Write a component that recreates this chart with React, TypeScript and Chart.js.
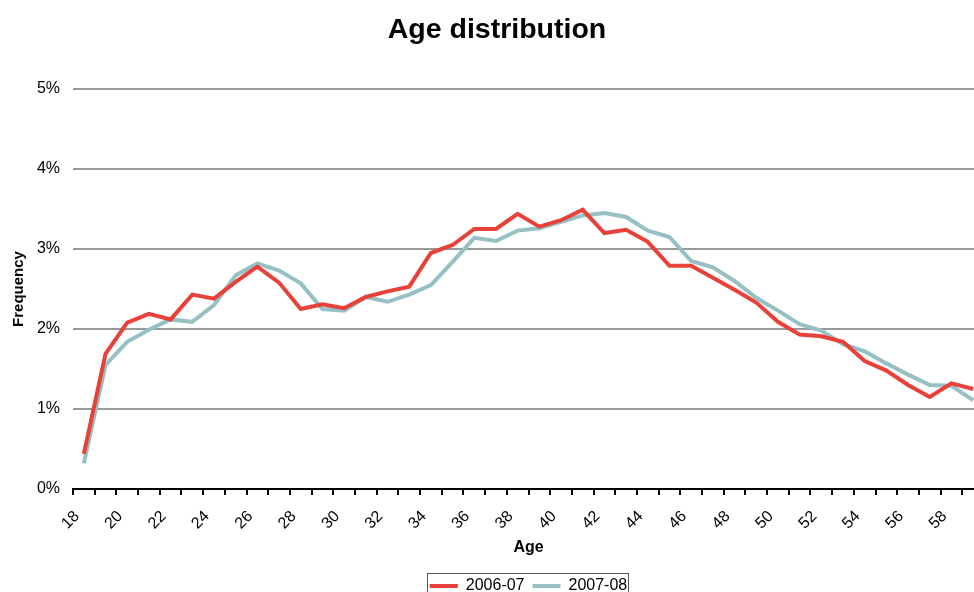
import React, { useEffect, useRef } from "react";
import { Chart, registerables } from "chart.js";

Chart.register(...registerables);

const ages: string[] = [
  "18","19","20","21","22","23","24","25","26","27","28","29","30","31",
  "32","33","34","35","36","37","38","39","40","41","42","43","44","45",
  "46","47","48","49","50","51","52","53","54","55","56","57","58","59",
];

const series2006: number[] = [
  0.44, 1.69, 2.08, 2.19, 2.12, 2.43, 2.38, 2.59, 2.78, 2.58, 2.25, 2.31, 2.26, 2.40,
  2.47, 2.53, 2.95, 3.05, 3.25, 3.25, 3.44, 3.28, 3.36, 3.49, 3.20, 3.24, 3.09, 2.79,
  2.79, 2.64, 2.49, 2.33, 2.09, 1.93, 1.91, 1.84, 1.60, 1.48, 1.30, 1.15, 1.32, 1.25,
];

const series2007: number[] = [
  0.32, 1.55, 1.84, 1.99, 2.12, 2.09, 2.30, 2.67, 2.82, 2.73, 2.57, 2.25, 2.23, 2.40,
  2.34, 2.43, 2.55, 2.84, 3.14, 3.10, 3.23, 3.26, 3.34, 3.42, 3.45, 3.40, 3.23, 3.15,
  2.85, 2.77, 2.60, 2.39, 2.23, 2.06, 1.98, 1.81, 1.72, 1.57, 1.43, 1.30, 1.29, 1.11,
];

const seriesNames: string[] = ["2006-07", "2007-08"];
const seriesColors: string[] = ["#E8413A", "#96C0C3"];

const FONT = "'Liberation Sans', Arial, sans-serif";

const legendBorder = {
  id: "legendBorder",
  afterDraw(chart: any) {
    const lg = chart.legend;
    if (!lg || !lg.legendHitBoxes || !lg.legendHitBoxes.length) return;
    const boxes = lg.legendHitBoxes;
    let l = Infinity, r = -Infinity, t = Infinity, b = -Infinity;
    for (const h of boxes) {
      l = Math.min(l, h.left);
      r = Math.max(r, h.left + h.width);
      t = Math.min(t, h.top);
      b = Math.max(b, h.top + h.height);
    }
    const ctx = chart.ctx;
    ctx.save();
    ctx.strokeStyle = "#555555";
    ctx.lineWidth = 1;
    ctx.strokeRect(Math.round(l - 3) + 0.5, Math.round(t - 5) + 0.5, Math.round(r - l + 4), Math.round(b - t + 10));
    ctx.restore();
  },
};

export default function App() {
  const ref = useRef<HTMLCanvasElement | null>(null);

  useEffect(() => {
    if (!ref.current) return;
    const chart = new Chart(ref.current, {
      type: "line",
      data: {
        labels: ages,
        datasets: [
          {
            label: seriesNames[0],
            data: series2006,
            borderColor: seriesColors[0],
            backgroundColor: seriesColors[0],
            borderWidth: 4,
            pointRadius: 0,
            tension: 0,
          },
          {
            label: seriesNames[1],
            data: series2007,
            borderColor: seriesColors[1],
            backgroundColor: seriesColors[1],
            borderWidth: 4,
            pointRadius: 0,
            tension: 0,
          },
        ],
      },
      options: {
        responsive: false,
        animation: false,
        devicePixelRatio: 1,
        layout: { padding: { left: 10, right: 4, top: 0, bottom: 0 } },
        plugins: {
          title: {
            display: true,
            text: "Age distribution",
            color: "#000",
            font: { family: FONT, size: 28.5, weight: "bold" },
            padding: { top: 13, bottom: 41.8 },
          },
          legend: {
            display: true,
            position: "bottom",
            fullSize: false,
            labels: {
              color: "#000",
              font: { family: FONT, size: 16 },
              usePointStyle: true,
              pointStyle: "line",
              pointStyleWidth: 28,
              boxWidth: 28,
              padding: 8,
            },
          },
          tooltip: { enabled: false },
        },
        scales: {
          x: {
            type: "category",
            offset: true,
            afterFit(scale: any) {
              scale.height = 81;
              scale.paddingLeft = 0;
              scale.paddingRight = 0;
            },
            grid: {
              display: true,
              offset: true,
              drawOnChartArea: false,
              drawTicks: true,
              tickLength: 6,
              color: "#000",
              lineWidth: 2,
            },
            border: { display: true, color: "#000", width: 2 },
            ticks: {
              autoSkip: false,
              minRotation: 45,
              maxRotation: 45,
              color: "#000",
              font: { family: FONT, size: 16 },
              padding: 12,
              labelOffset: -7,
              callback: function (this: any, _v: any, i: number) {
                return i % 2 === 0 ? ages[i] : "";
              },
            },
            title: {
              display: true,
              text: "Age",
              color: "#000",
              font: { family: FONT, size: 16, weight: "bold" },
              padding: { top: 0, bottom: 12.4 },
            },
          },
          y: {
            min: 0,
            max: 5,
            afterFit(scale: any) {
              scale.width = 63;
            },
            grid: {
              display: true,
              drawTicks: false,
              color: (ctx: any) => (ctx.tick && ctx.tick.value === 0 ? "rgba(0,0,0,0)" : "#999999"),
              lineWidth: 2,
            },
            border: { display: false },
            ticks: {
              stepSize: 1,
              color: "#000",
              font: { family: FONT, size: 16 },
              padding: 13,
              callback: (v: any) => v + "%",
            },
            title: {
              display: true,
              text: "Frequency",
              color: "#000",
              font: { family: FONT, size: 15, weight: "bold" },
              padding: { top: 0, bottom: 0 },
            },
          },
        },
      },
      plugins: [legendBorder],
    } as any);
    return () => chart.destroy();
  }, []);

  return (
    <div
      style={{
        position: "fixed",
        left: 0,
        top: 0,
        width: 974,
        height: 592,
        overflow: "hidden",
        background: "#fff",
      }}
    >
      <canvas ref={ref} width={988} height={604} style={{ display: "block", width: 988, height: 604 }} />
    </div>
  );
}
